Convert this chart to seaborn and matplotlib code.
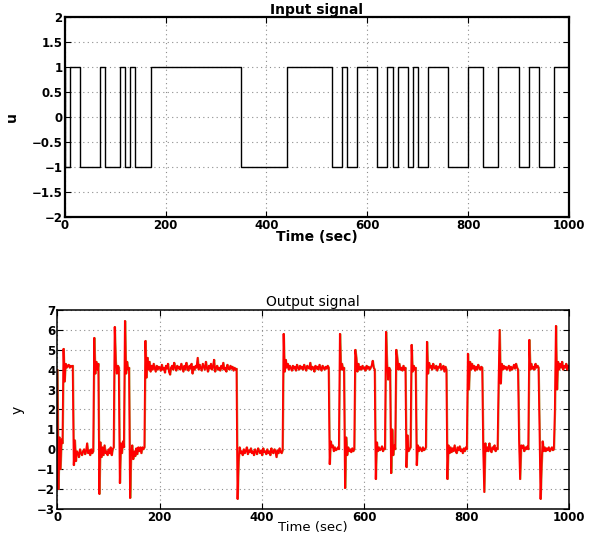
import numpy as np
import seaborn as sns
import matplotlib.pyplot as plt
from matplotlib.ticker import FuncFormatter

# input signal: switching instants and levels
u_time = [0, 1, 10, 30, 70, 80, 110, 120, 130, 140, 170, 350, 440, 530, 550,
          560, 580, 620, 640, 650, 660, 680, 690, 700, 720, 760, 800, 830, 860,
          900, 920, 940, 970, 1000]
u_level = [1, -1, 1, -1, 1, -1, 1, -1, 1, -1, 1, -1, 1, -1, 1,
           -1, 1, -1, 1, -1, 1, -1, 1, -1, 1, -1, 1, -1, 1,
           -1, 1, -1, 1, 1]

y_out = [
    4.0, -2.0, 0.6, -1.0, 0.5, 0.3, 5.05, 3.4, 4.3, 4.1,
    4.2, 4.25, 4.1, 4.2, 4.15, 4.2, -0.8, 0.45, -0.6, -0.1,
    -0.2, -0.4, 0.0, -0.2, -0.3, -0.1, 0.0, -0.25, -0.1, 0.3,
    -0.2, -0.05, -0.3, 0.0, -0.2, -0.1, 5.6, 3.8, 4.4, 4.0,
    4.3, -2.25, 0.35, -0.4, 0.1, -0.3, 0.2, -0.2, -0.1, -0.3,
    0.0, -0.2, 0.1, -0.3, 0.0, 0.1, 6.15, 4.4, 3.8, 4.2,
    4.1, -1.7, 0.3, -0.2, 0.4, 0.1, 6.45, 3.8, 4.4, 4.0,
    4.1, -2.45, -0.2, 0.2, -0.5, -0.1, -0.35, 0.05, -0.25, 0.1,
    -0.1, 0.1, -0.2, 0.1, 0.0, 0.1, 5.45, 3.6, 4.6, 4.0,
    4.4, 3.9, 4.2, 4.0, 4.3, 4.1, 3.9, 4.2, 4.0, 4.15,
    4.1, 3.95, 4.25, 4.0, 4.1, 3.85, 4.2, 4.05, 4.3, 3.9,
    3.75, 4.1, 4.2, 4.0, 4.35, 4.1, 3.95, 4.2, 4.05, 4.15,
    4.0, 4.3, 4.1, 3.9, 4.2, 4.0, 4.35, 4.1, 3.95, 4.2,
    4.05, 4.3, 3.8, 4.15, 4.0, 4.2, 4.1, 4.6, 4.0, 4.25,
    4.1, 3.95, 4.3, 4.15, 4.0, 4.4, 4.1, 3.9, 4.2, 4.05,
    4.3, 4.0, 4.15, 4.5, 3.9, 4.1, 4.2, 4.0, 4.1, 3.95,
    4.2, 4.05, 4.35, 4.0, 4.1, 3.9, 4.25, 4.1, 4.0, 4.2,
    4.05, 4.15, 3.95, 4.1, 4.0, 4.05, -2.5, -0.6, 0.1, -0.2,
    -0.1, -0.3, 0.0, -0.2, -0.1, 0.1, -0.25, -0.05, -0.15, 0.05,
    -0.2, -0.1, -0.3, 0.0, -0.15, -0.25, 0.05, -0.1, -0.2, -0.05,
    -0.3, 0.05, -0.15, -0.1, -0.25, 0.0, -0.2, -0.1, -0.3, 0.05,
    -0.15, -0.2, 0.0, -0.1, -0.4, -0.05, -0.2, 0.05, -0.1, -0.2,
    -0.05, 5.8, 3.9, 4.5, 4.1, 4.3, 4.0, 4.2, 4.1, 3.95,
    4.2, 4.05, 4.15, 3.95, 4.25, 4.1, 4.0, 4.2, 4.05, 4.15,
    4.0, 4.25, 4.1, 3.95, 4.2, 4.1, 4.05, 4.35, 4.0, 4.15,
    4.1, 3.9, 4.2, 4.05, 4.15, 4.0, 4.25, 4.1, 3.95, 4.2,
    4.1, 4.0, 4.15, 4.05, 4.2, 4.1, -0.75, 0.4, 0.1, 0.2,
    -0.1, 0.1, -0.05, 0.0, 0.1, 0.0, 5.8, 4.0, 4.3, 4.0,
    4.1, -1.95, 0.6, -0.3, 0.1, -0.1, 0.0, -0.15, 0.05, -0.1,
    0.0, 5.0, 4.6, 3.9, 4.3, 4.0, 4.15, 4.0, 4.2, 4.05,
    4.1, 3.95, 4.2, 4.05, 4.15, 4.0, 4.1, 4.2, 4.45, 4.1,
    4.0, -1.5, 0.35, -0.1, 0.1, -0.05, 0.0, 0.15, -0.1, 0.05,
    0.0, 5.9, 4.3, 3.5, 4.1, 4.0, -1.2, 1.0, -0.3, 0.2,
    0.0, 5.0, 4.6, 4.0, 4.3, 4.0, 4.1, 3.95, 4.2, 4.0,
    4.1, -0.9, 0.7, -0.1, 0.0, 0.1, 5.25, 3.9, 4.2, 4.0,
    4.1, -0.8, 0.2, -0.1, 0.1, 0.0, -0.1, 0.1, -0.05, 0.0,
    0.1, 5.4, 3.8, 4.35, 4.1, 4.2, 4.0, 4.3, 4.1, 4.05,
    4.2, 3.95, 4.15, 4.1, 4.3, 4.0, 4.1, 4.2, 3.9, 4.15,
    4.0, -1.5, 0.2, -0.2, 0.1, -0.15, 0.05, -0.1, 0.2, -0.05,
    -0.2, 0.1, -0.05, 0.15, -0.1, 0.0, -0.2, 0.05, -0.1, 0.1,
    0.0, 4.8, 3.0, 4.4, 4.0, 4.3, 4.05, 4.2, 3.95, 4.15,
    4.0, 4.25, 4.1, 4.0, 4.15, 4.1, 0.0, -2.15, 0.3, -0.1,
    0.1, -0.1, 0.3, 0.0, -0.15, 0.1, 0.0, 0.2, -0.1, 0.05,
    0.0, 3.3, 6.0, 3.3, 4.3, 4.0, 4.2, 4.05, 4.15, 4.0,
    4.1, 4.2, 3.95, 4.15, 4.0, 4.1, 4.25, 4.05, 4.3, 4.1,
    4.0, 0.5, -1.5, 0.2, 0.05, 0.2, -0.1, 0.1, 0.0, 0.15,
    0.0, 5.5, 4.0, 4.3, 4.05, 4.15, 4.0, 4.3, 4.1, 4.2,
    4.1, 1.0, -2.5, -0.8, 0.4, -0.1, 0.1, -0.1, 0.05, -0.05,
    0.1, -0.1, 0.0, 0.1, -0.05, 0.0, 2.0, 6.2, 3.0, 4.4,
    4.0, 4.3, 4.1, 4.4, 4.0, 4.2, 4.1, 4.3, 4.0, 4.2,
    4.1,
]
y_time = np.linspace(0, 1000, len(y_out))

sns.set_style("ticks")
plt.rcParams['font.family'] = ['DejaVu Sans']
plt.rcParams['text.color'] = 'black'
plt.rcParams['axes.labelcolor'] = 'black'
plt.rcParams['xtick.color'] = 'black'
plt.rcParams['ytick.color'] = 'black'

fmt = FuncFormatter(lambda v, p: '{:g}'.format(v).replace('-', '\u2212'))

fig = plt.figure(figsize=(5.89, 5.34), dpi=100)
ax1 = fig.add_axes([0.110, 0.594, 0.856, 0.3745])
ax2 = fig.add_axes([0.0973, 0.0468, 0.869, 0.3727])

# input
sns.lineplot(x=u_time, y=u_level, ax=ax1, color='black', lw=1.0,
             drawstyle='steps-post', estimator=None)
ax1.set_xlim(0, 1000)
ax1.set_ylim(-2, 2)
ax1.set_xticks(range(0, 1001, 200))
ax1.set_yticks(np.arange(-2, 2.01, 0.5))
ax1.set_title('Input signal', fontsize=10, fontweight='bold', pad=2)
ax1.set_xlabel('Time (sec)', fontsize=10, fontweight='bold', labelpad=-1)
ax1.set_ylabel('u', fontsize=10, fontweight='bold', labelpad=9)

# output: delayed olive trace under the red measured trace
sns.lineplot(x=y_time + 1, y=y_out, ax=ax2, color='#b38a3c', lw=1.3,
             estimator=None)
sns.lineplot(x=y_time, y=y_out, ax=ax2, color='#ff0000', lw=1.3,
             estimator=None)
ax2.set_xlim(0, 1000)
ax2.set_ylim(-3, 7)
ax2.set_xticks(range(0, 1001, 200))
ax2.set_yticks(range(-3, 8))
ax2.set_title('Output signal', fontsize=10, pad=3)
ax2.set_xlabel('Time (sec)', fontsize=9.5, labelpad=-2.5)
ax2.set_ylabel('y', fontsize=10, labelpad=9)

for ax, lw in ((ax1, 1.6), (ax2, 1.1)):
    ax.grid(True, linestyle=(0, (1, 3)), color='#8c8c8c', lw=0.8)
    ax.xaxis.set_major_formatter(fmt)
    ax.yaxis.set_major_formatter(fmt)
    ax.tick_params(direction='in', length=4, width=0.8, top=True, right=True,
                   labelsize=8.5, pad=1.5)
    for lab in ax.get_xticklabels() + ax.get_yticklabels():
        lab.set_fontweight('bold')
    for s in ax.spines.values():
        s.set_visible(True)
        s.set_linewidth(lw)
        s.set_color('black')

fig.savefig('out.png', dpi=100)
